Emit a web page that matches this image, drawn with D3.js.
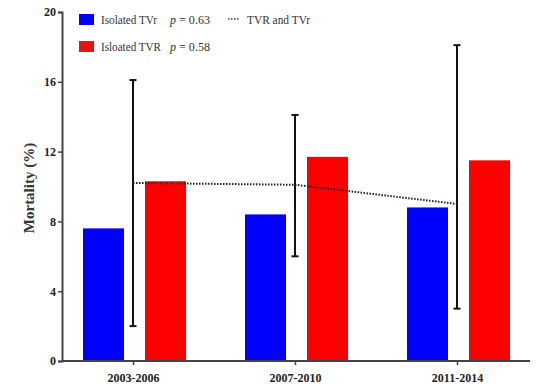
<!DOCTYPE html>
<html>
<head>
<meta charset="utf-8">
<script src="https://cdn.jsdelivr.net/npm/d3@7"></script>
<style>
  body { margin: 0; background: #fff; }
  text { font-family: "Liberation Serif", "Times New Roman", serif; }
</style>
</head>
<body>
<svg id="chart"></svg>
<script>
const periods = ["2003-2006", "2007-2010", "2011-2014"];
const tvrSmall = [7.6, 8.4, 8.8];     // Isolated TVr
const tvrLarge = [10.3, 11.7, 11.5];  // Isloated TVR
const combined = [10.2, 10.1, 9.0];   // TVR and TVr
const errLow = [2.0, 6.0, 3.0];
const errHigh = [16.1, 14.1, 18.1];
const yTicks = [0, 4, 8, 12, 16, 20];

const width = 542, height = 387;
const margin = { top: 12, right: 12, bottom: 26, left: 62 };
const innerW = width - margin.left - margin.right;
const innerH = height - margin.top - margin.bottom;

const svg = d3.select("#chart").attr("width", width).attr("height", height);
const g = svg.append("g").attr("transform", `translate(${margin.left},${margin.top})`);

const x = d3.scalePoint().domain(periods).range([71, 395]);
const y = d3.scaleLinear().domain([0, 20]).range([innerH, 0]);

const barW = 41;
const gap = 61; // distance between blue and red bar left edges

// bars
g.selectAll(".blue").data(periods).enter().append("rect")
  .attr("x", d => x(d) - 50)
  .attr("y", (d, i) => y(tvrSmall[i]))
  .attr("width", barW)
  .attr("height", (d, i) => innerH - y(tvrSmall[i]))
  .attr("fill", "#0000ff");

g.selectAll(".red").data(periods).enter().append("rect")
  .attr("x", d => x(d) - 50 + gap + 1)
  .attr("y", (d, i) => y(tvrLarge[i]))
  .attr("width", barW)
  .attr("height", (d, i) => innerH - y(tvrLarge[i]))
  .attr("fill", "#ff0000");

// error bars
const eb = g.selectAll(".err").data(periods).enter().append("g");
eb.append("line")
  .attr("x1", d => x(d)).attr("x2", d => x(d))
  .attr("y1", (d, i) => y(errLow[i])).attr("y2", (d, i) => y(errHigh[i]))
  .attr("stroke", "#111").attr("stroke-width", 2);
eb.append("line")
  .attr("x1", d => x(d) - 3.5).attr("x2", d => x(d) + 3.5)
  .attr("y1", (d, i) => y(errHigh[i])).attr("y2", (d, i) => y(errHigh[i]))
  .attr("stroke", "#111").attr("stroke-width", 2);
eb.append("line")
  .attr("x1", d => x(d) - 3.5).attr("x2", d => x(d) + 3.5)
  .attr("y1", (d, i) => y(errLow[i])).attr("y2", (d, i) => y(errLow[i]))
  .attr("stroke", "#111").attr("stroke-width", 2);

// dotted trend line
const line = d3.line().x((d, i) => x(periods[i])).y(d => y(d));
g.append("path").datum(combined)
  .attr("d", line)
  .attr("fill", "none")
  .attr("stroke", "#222")
  .attr("stroke-width", 2)
  .attr("stroke-dasharray", "1.5,1.5");

// axes
const yAxis = d3.axisLeft(y).tickValues(yTicks).tickSize(4).tickPadding(2);
const yG = g.append("g").call(yAxis);
const xAxis = d3.axisBottom(x).tickSize(4).tickPadding(8);
const xG = g.append("g").attr("transform", `translate(0,${innerH})`).call(xAxis);
xG.select(".domain").attr("d", `M0,0H${innerW}`);

[yG, xG].forEach(a => {
  a.select(".domain").attr("stroke", "#444").attr("stroke-width", 2);
  a.selectAll(".tick line").attr("stroke", "#444").attr("stroke-width", 1.5);
  a.selectAll("text").attr("font-size", 12).attr("font-weight", "bold")
    .attr("fill", "#222");
});

svg.append("text")
  .attr("transform", "translate(34,188) rotate(-90)")
  .attr("text-anchor", "middle")
  .attr("font-size", 15).attr("font-weight", "bold").attr("fill", "#333")
  .text("Mortality (%)");

// legend
const leg = svg.append("g").attr("font-size", 13);
leg.append("rect").attr("x", 79).attr("y", 14).attr("width", 15).attr("height", 11).attr("fill", "#0000ff");
leg.append("rect").attr("x", 79).attr("y", 41).attr("width", 15).attr("height", 11).attr("fill", "#ee1111");
leg.append("text").attr("x", 101).attr("y", 24).attr("fill", "#333")
  .attr("textLength", 56).attr("lengthAdjust", "spacingAndGlyphs").text("Isolated TVr");
leg.append("text").attr("x", 101).attr("y", 51).attr("fill", "#333")
  .attr("textLength", 60).attr("lengthAdjust", "spacingAndGlyphs").text("Isloated TVR");
leg.append("text").attr("x", 170).attr("y", 24).attr("fill", "#333")
  .attr("textLength", 40).attr("lengthAdjust", "spacingAndGlyphs")
  .html('<tspan font-style="italic">p</tspan> = 0.63');
leg.append("text").attr("x", 170).attr("y", 51).attr("fill", "#333")
  .attr("textLength", 40).attr("lengthAdjust", "spacingAndGlyphs")
  .html('<tspan font-style="italic">p</tspan> = 0.58');
leg.append("line").attr("x1", 228).attr("x2", 240).attr("y1", 19).attr("y2", 19)
  .attr("stroke", "#333").attr("stroke-width", 1.5).attr("stroke-dasharray", "1.5,1.5");
leg.append("text").attr("x", 247).attr("y", 24).attr("fill", "#333")
  .attr("textLength", 63).attr("lengthAdjust", "spacingAndGlyphs").text("TVR and TVr");
</script>
</body>
</html>
